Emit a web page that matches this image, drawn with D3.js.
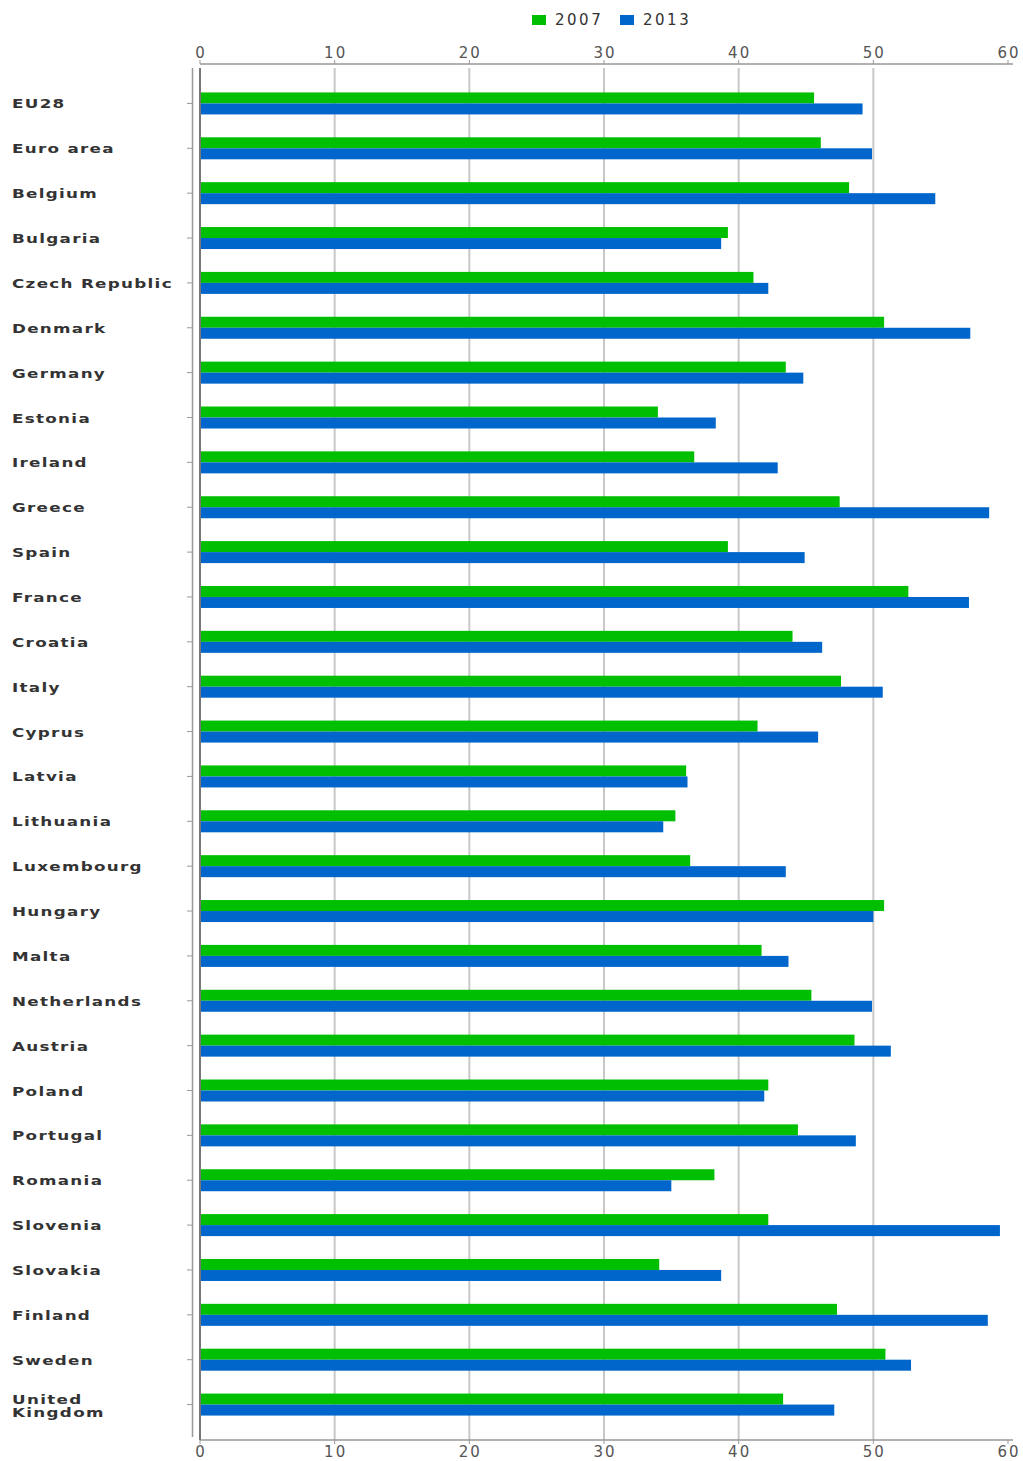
<!DOCTYPE html>
<meta charset="utf-8">
<style>
body { margin: 0; background: #fff; }
.tick-lab { font: 15px "DejaVu Sans", sans-serif; fill: #555; letter-spacing: 2px; }
.cat { font: bold 13px "DejaVu Sans", sans-serif; fill: #333; letter-spacing: 1px; }
.leg { font: 15px "DejaVu Sans", sans-serif; fill: #333; letter-spacing: 2.5px; }
</style>
<body>
<svg width="1023" height="1461"></svg>
<script src="https://d3js.org/d3.v7.min.js"></script>
<script>
var countries = ["EU28", "Euro area", "Belgium", "Bulgaria", "Czech Republic", "Denmark", "Germany",
  "Estonia", "Ireland", "Greece", "Spain", "France", "Croatia", "Italy", "Cyprus", "Latvia",
  "Lithuania", "Luxembourg", "Hungary", "Malta", "Netherlands", "Austria", "Poland", "Portugal",
  "Romania", "Slovenia", "Slovakia", "Finland", "Sweden", "United Kingdom"];
var v2007 = [45.6, 46.1, 48.2, 39.2, 41.1, 50.8, 43.5, 34.0, 36.7, 47.5, 39.2, 52.6, 44.0, 47.6, 41.4,
  36.1, 35.3, 36.4, 50.8, 41.7, 45.4, 48.6, 42.2, 44.4, 38.2, 42.2, 34.1, 47.3, 50.9, 43.3];
var v2013 = [49.2, 49.9, 54.6, 38.7, 42.2, 57.2, 44.8, 38.3, 42.9, 58.6, 44.9, 57.1, 46.2, 50.7, 45.9,
  36.2, 34.4, 43.5, 50.0, 43.7, 49.9, 51.3, 41.9, 48.7, 35.0, 59.4, 38.7, 58.5, 52.8, 47.1];
var years = ["2007", "2013"];
var colors = ["#00bf00", "#0066cc"];
var ticks = [0, 10, 20, 30, 40, 50, 60];

var svg = d3.select("svg");
var plotL = 200, plotR = 1013, plotT = 70, plotB = 1440;

var x = d3.scaleLinear().domain([0, 60]).range([plotL, 1008]);
var y = d3.scaleBand().domain(countries).range([81, 1427]);
var sub = d3.scaleBand().domain(years).range([-11, 11]);

// grid
svg.append("g").selectAll("line").data(ticks.slice(1, 6)).join("line")
  .attr("x1", d => x(d)).attr("x2", d => x(d))
  .attr("y1", plotT - 2).attr("y2", plotB)
  .attr("stroke", "#c8c8c8").attr("stroke-width", 2);

// axes lines top/bottom
[64, plotB].forEach(function(yy, i) {
  svg.append("line").attr("x1", plotL).attr("x2", plotR).attr("y1", yy).attr("y2", yy)
    .attr("stroke", "#999").attr("stroke-width", 1.5);
  svg.append("g").selectAll("line").data(ticks).join("line")
    .attr("x1", d => x(d)).attr("x2", d => x(d))
    .attr("y1", i ? yy : yy - 4).attr("y2", i ? yy + 4 : yy)
    .attr("stroke", "#999");
  svg.append("g").selectAll("text").data(ticks).join("text")
    .attr("class", "tick-lab")
    .attr("x", d => x(d) + 1).attr("y", i ? 1457 : 58)
    .attr("text-anchor", "middle").text(d => d);
});

// left double line
svg.append("line").attr("x1", 192.5).attr("x2", 192.5).attr("y1", plotT - 2).attr("y2", 1437)
  .attr("stroke", "#999").attr("stroke-width", 1.5);
svg.append("line").attr("x1", plotL).attr("x2", plotL).attr("y1", plotT - 2).attr("y2", plotB)
  .attr("stroke", "#777").attr("stroke-width", 2);

// category ticks + labels
var rows = svg.append("g").selectAll("g").data(countries).join("g")
  .attr("transform", d => "translate(0," + (y(d) + y.bandwidth() / 2) + ")");
rows.append("line").attr("x1", 187).attr("x2", 192).attr("stroke", "#999");
rows.each(function(d) {
  var g = d3.select(this);
  var parts = d === "United Kingdom" ? ["United", "Kingdom"] : [d];
  parts.forEach(function(p, j) {
    g.append("text").attr("class", "cat")
      .attr("transform", "translate(12," + (parts.length > 1 ? j * 13 - 1 : 5) + ") scale(1.29,1)")
      .text(p);
  });
});

// bars
var series = [v2007, v2013];
series.forEach(function(vals, s) {
  svg.append("g").selectAll("rect").data(countries).join("rect")
    .attr("x", x(0) + 1)
    .attr("y", d => y(d) + y.bandwidth() / 2 + sub(years[s]))
    .attr("width", (d, i) => x(vals[i]) - x(0) - 1)
    .attr("height", sub.bandwidth())
    .attr("fill", colors[s]);
});

// legend
var leg = svg.append("g").selectAll("g").data(years).join("g")
  .attr("transform", (d, i) => "translate(" + (532 + i * 88) + ",0)");
leg.append("rect").attr("y", 15).attr("width", 14).attr("height", 10).attr("fill", (d, i) => colors[i]);
leg.append("text").attr("class", "leg").attr("x", 23).attr("y", 25).text(d => d);
</script>
